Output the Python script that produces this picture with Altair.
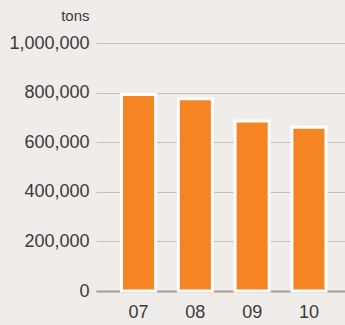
import altair as alt
import pandas as pd

years = ["07", "08", "09", "10"]
tons = [792000, 775000, 685000, 660000]

df = pd.DataFrame({"year": years, "tons": tons})

FONT = "Liberation Sans"

chart = alt.Chart(df).mark_bar(
    color="#f58423", stroke="#ffffff", strokeWidth=3
).encode(
    x=alt.X("year:N", sort=years,
            scale=alt.Scale(paddingInner=0.40, paddingOuter=0.392, align=0.573),
            axis=alt.Axis(title=None, labelAngle=0, domainColor="#a89c98", domainWidth=2,
                          ticks=False, labelPadding=12, labelFontSize=18,
                          labelFont=FONT, labelColor="#3a3a3a", grid=False)),
    y=alt.Y("tons:Q", scale=alt.Scale(domain=[0, 1000000], nice=False),
            axis=alt.Axis(values=[0, 200000, 400000, 600000, 800000, 1000000],
                          format=",d", domain=False, ticks=False, labelPadding=7,
                          labelFontSize=18, labelFont=FONT, labelColor="#3a3a3a",
                          gridColor="#c4bfbc", gridWidth=1,
                          title="tons", titleAngle=0, titleX=-7, titleY=-28,
                          titleAlign="right", titleBaseline="middle",
                          titleFont=FONT, titleFontSize=15, titleFontWeight="normal",
                          titleColor="#3a3a3a")),
).properties(
    width=249, height=248,
    background="#f0ecea",
    padding={"left": 96, "top": 43, "right": 0, "bottom": 34},
    autosize=alt.AutoSizeParams(type="none"),
).configure_view(stroke=None)

chart.save("out.html", embed_options={"renderer": "svg", "actions": False})
